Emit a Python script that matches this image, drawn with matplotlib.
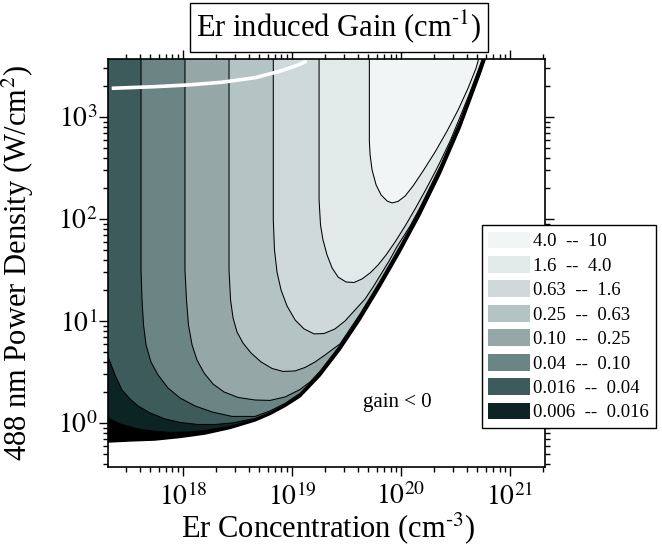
import numpy as np
import matplotlib
matplotlib.use("Agg")
import matplotlib.pyplot as plt
from matplotlib.patches import Patch
from matplotlib.ticker import LogLocator, NullFormatter, FixedLocator, FixedFormatter
from matplotlib.mathtext import MathTextParser

plt.rcParams['font.family'] = ['Liberation Serif', 'DejaVu Serif']
plt.rcParams['mathtext.fontset'] = 'stix'

# ---------------- data ----------------
# contour levels of Er induced gain (cm^-1)
gain_levels = [0.0, 0.006, 0.016, 0.04, 0.10, 0.25, 0.63, 1.6, 4.0, 10]
legend_labels = ["4.0  --  10", "1.6  --  4.0", "0.63  --  1.6", "0.25  --  0.63",
                 "0.10  --  0.25", "0.04  --  0.10", "0.016  --  0.04", "0.006  --  0.016"]
band_colors = ['#000000', '#0c2424', '#3d5b5b', '#6b8585', '#95a7a7',
               '#b4c4c4', '#cfd9d9', '#e2e9e9', '#f1f5f5']

# contour traces: log10(N / cm^-3), log10(P / W cm^-2)
g0000_logN = [17.303, 17.514, 17.743, 17.972, 18.202, 18.431, 18.661, 18.798, 18.936, 19.073,
              19.257, 19.440, 19.624, 19.807, 19.991, 20.174, 20.358, 20.541, 20.725, 20.817]
g0000_logP = [-0.187, -0.176, -0.167, -0.142, -0.108, -0.054, 0.020, 0.083, 0.162, 0.255,
              0.461, 0.716, 1.010, 1.333, 1.676, 2.039, 2.441, 2.892, 3.422, 3.706]

g0006_logN = [17.303, 17.422, 17.587, 17.743, 17.899, 18.064, 18.202, 18.339, 18.431, 18.661,
              18.798, 18.936, 19.073, 19.257, 19.440, 19.624, 19.807, 19.991, 20.174, 20.358,
              20.541, 20.725, 20.817]
g0006_logP = [0.054, -0.010, -0.059, -0.083, -0.093, -0.088, -0.074, -0.049, -0.032, 0.031,
              0.093, 0.172, 0.265, 0.471, 0.725, 1.020, 1.343, 1.686, 2.049, 2.451,
              2.902, 3.431, 3.716]

g0016_logN = [17.303, 17.376, 17.440, 17.514, 17.587, 17.697, 17.835, 17.972, 18.138, 18.294,
              18.450, 18.661, 18.798, 18.936, 19.073, 19.257, 19.440, 19.624, 19.807, 19.991,
              20.174, 20.358, 20.541, 20.725, 20.817]
g0016_logP = [0.676, 0.471, 0.324, 0.235, 0.167, 0.098, 0.039, 0.005, -0.015, -0.015,
              0.000, 0.044, 0.103, 0.181, 0.278, 0.484, 0.739, 1.033, 1.357, 1.700,
              2.063, 2.465, 2.916, 3.445, 3.729]

g004_logN = [17.615, 17.615, 17.624, 17.638, 17.661, 17.706, 17.771, 17.862, 17.972, 18.110,
             18.266, 18.450, 18.661, 18.798, 18.936, 19.073, 19.257, 19.440, 19.624, 19.807,
             19.991, 20.174, 20.358, 20.541, 20.725, 20.817]
g004_logP = [3.706, 1.500, 1.206, 0.961, 0.765, 0.598, 0.471, 0.343, 0.245, 0.167,
             0.108, 0.064, 0.064, 0.118, 0.192, 0.290, 0.496, 0.751, 1.045, 1.369,
             1.712, 2.075, 2.476, 2.927, 3.457, 3.741]

g010_logN = [18.018, 18.018, 18.032, 18.050, 18.083, 18.128, 18.193, 18.275, 18.376, 18.505,
             18.661, 18.798, 18.936, 19.073, 19.165, 19.257, 19.440, 19.624, 19.807, 19.991,
             20.174, 20.358, 20.541, 20.725, 20.817]
g010_logP = [3.706, 1.500, 1.206, 0.961, 0.765, 0.618, 0.490, 0.382, 0.304, 0.250,
             0.225, 0.221, 0.255, 0.328, 0.402, 0.508, 0.763, 1.057, 1.380, 1.724,
             2.086, 2.488, 2.939, 3.469, 3.753]

g025_logN = [18.422, 18.422, 18.436, 18.459, 18.495, 18.550, 18.624, 18.716, 18.817, 18.917,
             19.028, 19.119, 19.211, 19.303, 19.376, 19.440, 19.624, 19.807, 19.991, 20.174,
             20.358, 20.541, 20.725, 20.817]
g025_logP = [3.706, 1.500, 1.206, 1.029, 0.892, 0.784, 0.686, 0.598, 0.534, 0.505,
             0.510, 0.544, 0.598, 0.667, 0.725, 0.775, 1.069, 1.392, 1.735, 2.098,
             2.500, 2.951, 3.480, 3.765]

g063_logN = [18.828, 18.828, 18.839, 18.862, 18.899, 18.954, 19.028, 19.110, 19.202, 19.294,
             19.394, 19.486, 19.578, 19.670, 19.743, 19.817, 19.890, 19.963, 20.083, 20.174,
             20.358, 20.541, 20.725, 20.817]
g063_logP = [3.706, 1.990, 1.696, 1.480, 1.304, 1.147, 1.010, 0.922, 0.873, 0.877,
             0.922, 1.000, 1.108, 1.216, 1.333, 1.461, 1.588, 1.730, 1.931, 2.113,
             2.515, 2.966, 3.495, 3.779]

g16_logN = [19.248, 19.248, 19.261, 19.284, 19.321, 19.367, 19.422, 19.495, 19.569, 19.642,
            19.716, 19.789, 19.862, 19.945, 20.037, 20.128, 20.220, 20.312, 20.358, 20.450,
            20.541, 20.633, 20.725, 20.789]
g16_logP = [3.706, 2.186, 1.941, 1.794, 1.647, 1.520, 1.431, 1.382, 1.377, 1.412,
            1.471, 1.549, 1.647, 1.775, 1.931, 2.098, 2.275, 2.461, 2.559, 2.765,
            3.000, 3.245, 3.510, 3.706]

g40_logN = [19.709, 19.709, 19.716, 19.734, 19.771, 19.817, 19.872, 19.917, 19.972, 20.037,
            20.110, 20.202, 20.312, 20.422, 20.523, 20.615, 20.688, 20.734]
g40_logP = [3.706, 2.765, 2.627, 2.480, 2.333, 2.235, 2.176, 2.157, 2.172, 2.225,
            2.324, 2.471, 2.657, 2.863, 3.069, 3.284, 3.480, 3.657]

# white curve near the top
white_logN = [17.346, 17.743, 18.049, 18.355, 18.661, 18.874, 19.058, 19.135]
white_logP = [3.281, 3.297, 3.314, 3.340, 3.385, 3.444, 3.510, 3.549]

x_ticks = [1e18, 1e19, 1e20, 1e21]
x_ticklabels = [r'$10^{18}$', r'$10^{19}$', r'$10^{20}$', r'$10^{21}$']
y_ticks = [1e0, 1e1, 1e2, 1e3]
y_ticklabels = [r'$10^{0}$', r'$10^{1}$', r'$10^{2}$', r'$10^{3}$']
x_range = (2.05e17, 2.09e21)
y_range = (0.37, 3700)


def sup_hyphen(num):
    """superscript with a short hyphen (as in the original) if mathtext supports \\text"""
    s = r'$^{\text{-}' + num + '}$'
    try:
        MathTextParser('path').parse(s)
        return s
    except Exception:
        return r'$^{-' + num + '}$'


title_text = 'Er induced Gain (cm' + sup_hyphen('1') + ')'
xlabel_text = 'Er Concentration (cm' + sup_hyphen('3') + ')'
ylabel_text = r'488 nm Power Density (W/cm$^{2}$)'

# ---------------- plot ----------------
fig = plt.figure(figsize=(6.62, 5.52), dpi=100)
ax = fig.add_axes([0.1631, 0.1540, 0.6602, 0.7391])
ax.set_xscale('log')
ax.set_yscale('log')

traces = [(g0000_logN, g0000_logP), (g0006_logN, g0006_logP), (g0016_logN, g0016_logP),
          (g004_logN, g004_logP), (g010_logN, g010_logP), (g025_logN, g025_logP),
          (g063_logN, g063_logP), (g16_logN, g16_logP), (g40_logN, g40_logP)]

cap = 1e4
for (lN, lP), col in zip(traces, band_colors):
    N = 10 ** np.array(lN)
    P = 10 ** np.array(lP)
    xs = np.concatenate([N, [N[-1], N[0]]])
    ys = np.concatenate([P, [cap, cap]])
    ax.fill(xs, ys, color=col, lw=0, zorder=1)

for i, (lN, lP) in enumerate(traces):
    ax.plot(10 ** np.array(lN), 10 ** np.array(lP), color='black',
            lw=1.1 if i == 0 else 0.75, zorder=2)

ax.plot(10 ** np.array(white_logN), 10 ** np.array(white_logP), color='white', lw=2.6,
        solid_capstyle='butt', zorder=3)

ax.set_xlim(*x_range)
ax.set_ylim(*y_range)

ax.xaxis.set_major_locator(FixedLocator(x_ticks))
ax.xaxis.set_major_formatter(FixedFormatter(x_ticklabels))
ax.yaxis.set_major_locator(FixedLocator(y_ticks))
ax.yaxis.set_major_formatter(FixedFormatter(y_ticklabels))
ax.xaxis.set_minor_locator(LogLocator(base=10, subs=np.arange(2, 10), numticks=50))
ax.yaxis.set_minor_locator(LogLocator(base=10, subs=np.arange(2, 10), numticks=50))
ax.xaxis.set_minor_formatter(NullFormatter())
ax.yaxis.set_minor_formatter(NullFormatter())

ax.tick_params(which='both', direction='out', top=True, right=True, width=1.0)
ax.tick_params(which='major', length=6.5, labelsize=20)
ax.tick_params(which='minor', length=3.5)
ax.tick_params(axis='x', which='major', pad=5)
ax.tick_params(axis='y', which='major', pad=1)
for s in ax.spines.values():
    s.set_linewidth(1.2)
    s.set_zorder(5)

ax.set_xlabel(xlabel_text, fontsize=22)
ax.xaxis.set_label_coords(0.505, -0.105)
ax.set_ylabel(ylabel_text, fontsize=22)
ax.yaxis.set_label_coords(-0.165, 0.5)

ax.text(0.661, 0.157, 'gain < 0', transform=ax.transAxes, fontsize=15,
        ha='center', va='center', zorder=6)

fig.text(0.512, 0.951, title_text, fontsize=22, ha='center', va='center',
         bbox=dict(boxstyle='square,pad=0.2', fc='white', ec='black', lw=1.0))

handles = [Patch(facecolor=c, edgecolor='none') for c in band_colors[::-1][:8]]
leg = ax.legend(handles, legend_labels, loc='upper left', bbox_to_anchor=(0.728, 0.5924),
                bbox_transform=fig.transFigure, borderaxespad=0, fontsize=13.5,
                frameon=True, fancybox=False, framealpha=1, edgecolor='black',
                handlelength=2.2, handleheight=1.0, handletextpad=0.2,
                labelspacing=0.3, borderpad=0.35)
leg.get_frame().set_linewidth(1.0)
leg.set_zorder(10)

fig.savefig('out.png', dpi=100)
